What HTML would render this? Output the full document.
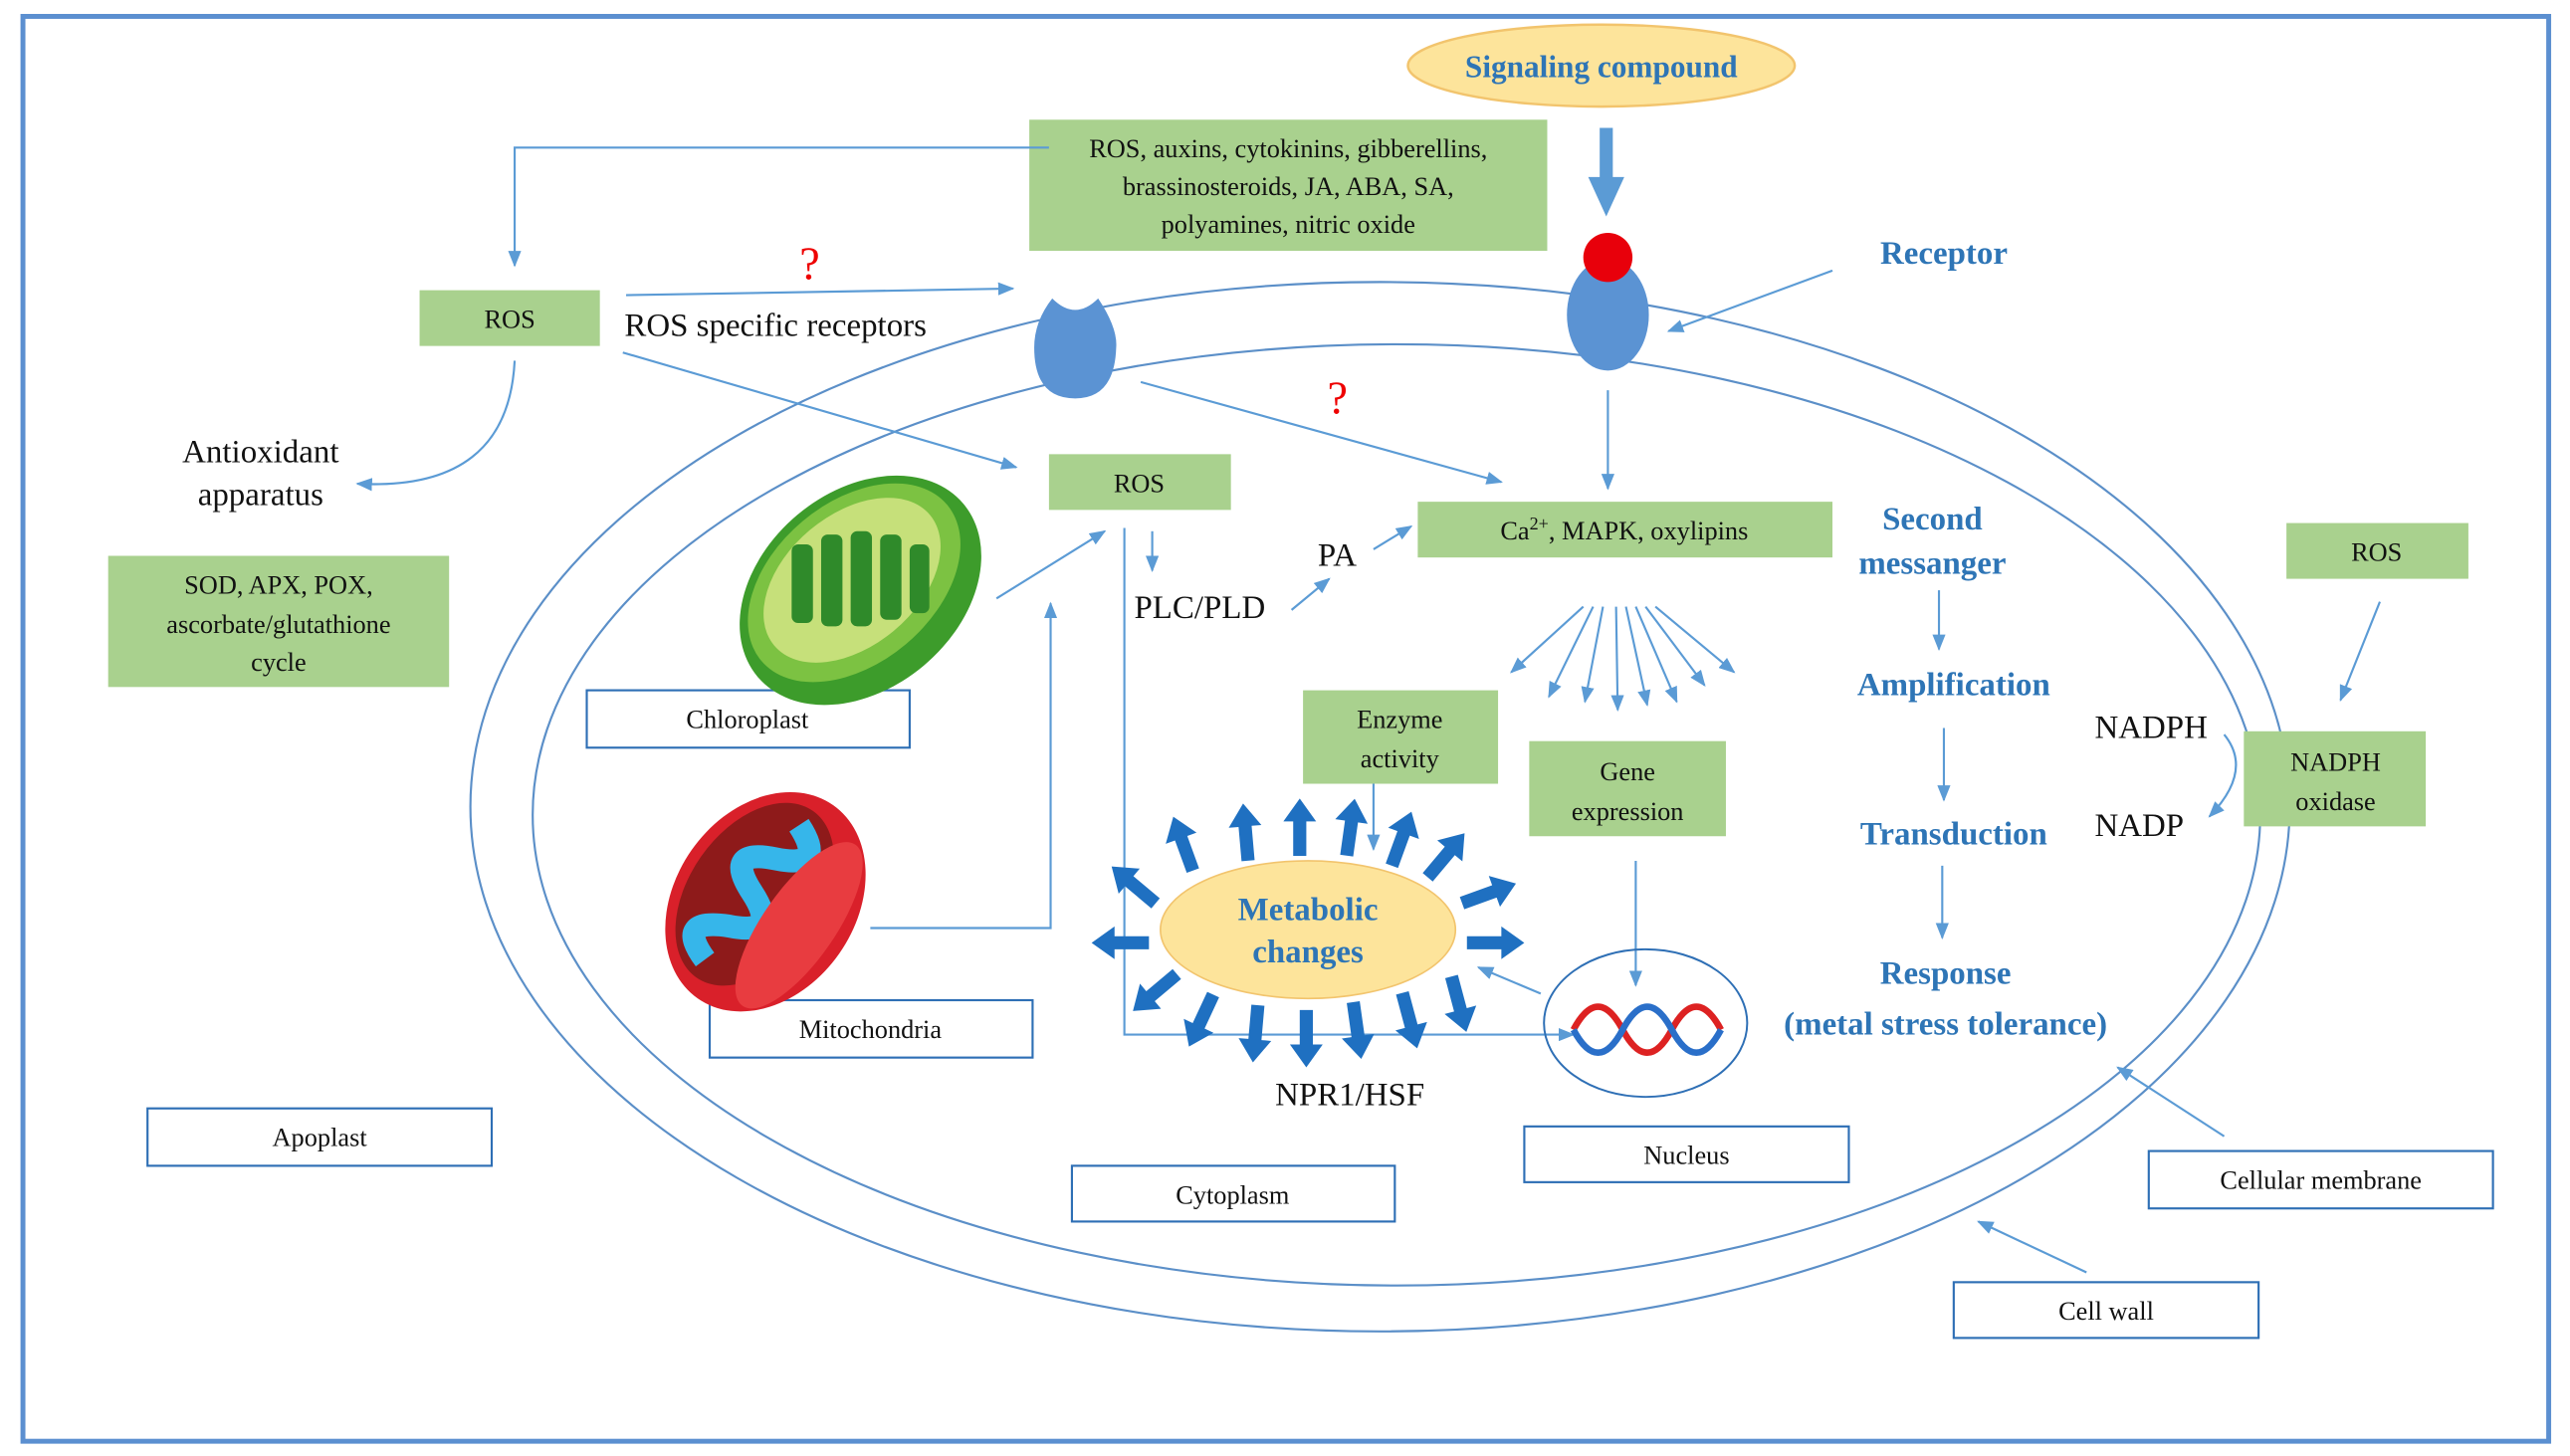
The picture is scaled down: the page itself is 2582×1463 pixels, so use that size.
<!DOCTYPE html>
<html><head><meta charset="utf-8"><style>
html,body{margin:0;padding:0;background:#fff;}
svg{display:block;font-family:"Liberation Serif","DejaVu Serif",serif;}
svg text{font-family:"Liberation Serif","DejaVu Serif",serif !important;}
</style></head><body>
<svg width="2582" height="1463" viewBox="0 0 1568 888" preserveAspectRatio="none" xmlns="http://www.w3.org/2000/svg" font-family="Liberation Serif, serif">
<defs>
<marker id="a" markerWidth="10" markerHeight="8" refX="9" refY="4" orient="auto" markerUnits="userSpaceOnUse"><path d="M0,0 L10,4 L0,8 Z" fill="#5b9bd5"/></marker>
<path id="ba" d="M-4,17 L-4,-4 L-10,-4 L0,-18 L10,-4 L4,-4 L4,17 Z" fill="#1f70c1"/>
</defs>
<rect x="0" y="0" width="1568" height="888" fill="#fff"/>
<rect x="14" y="10" width="1541" height="869" fill="none" stroke="#5b8fd0" stroke-width="3"/>

<ellipse cx="842" cy="492" rx="555" ry="320" fill="none" stroke="#5b8fc8" stroke-width="1.3"/>
<ellipse cx="852" cy="497" rx="527" ry="287" fill="none" stroke="#5b8fc8" stroke-width="1.3"/>

<ellipse cx="977" cy="40" rx="118" ry="25" fill="#fde49b" stroke="#f2c46d" stroke-width="1.5"/>
<text x="977" y="47" font-size="19" font-weight="bold" fill="#2e75b6" text-anchor="middle">Signaling compound</text>
<path d="M976,78 L976,108 L969,108 L980,132 L991,108 L984,108 L984,78 Z" fill="#5b9bd5"/>

<g fill="#a9d18e">
<rect x="628" y="73" width="316" height="80"/>
<rect x="256" y="177" width="110" height="34"/>
<rect x="640" y="277" width="111" height="34"/>
<rect x="865" y="306" width="253" height="34"/>
<rect x="66" y="339" width="208" height="80"/>
<rect x="1395" y="319" width="111" height="34"/>
<rect x="1369" y="446" width="111" height="58"/>
<rect x="795" y="421" width="119" height="57"/>
<rect x="933" y="452" width="120" height="58"/>
</g>
<g font-size="16" fill="#111" text-anchor="middle">
<text x="786" y="96">ROS, auxins,  cytokinins,  gibberellins,</text>
<text x="786" y="119">brassinosteroids,  JA, ABA, SA,</text>
<text x="786" y="142">polyamines,  nitric  oxide</text>
<text x="311" y="200">ROS</text>
<text x="695" y="300">ROS</text>
<text x="1450" y="342">ROS</text>
<text x="1425" y="470">NADPH</text>
<text x="1425" y="494">oxidase</text>
<text x="854" y="444">Enzyme</text>
<text x="854" y="468">activity</text>
<text x="993" y="476">Gene</text>
<text x="993" y="500">expression</text>
<text x="170" y="362">SOD, APX, POX,</text>
<text x="170" y="386">ascorbate/glutathione</text>
<text x="170" y="409">cycle</text>
</g>
<text x="991" y="329" font-size="16" fill="#111" text-anchor="middle">Ca<tspan font-size="11" dy="-6">2+</tspan><tspan dy="6">, MAPK, oxylipins</tspan></text>

<g fill="#fff" stroke="#2e6fb5" stroke-width="1.3">
<rect x="358" y="421" width="197" height="35"/>
<rect x="433" y="610" width="197" height="35"/>
<rect x="90" y="676" width="210" height="35"/>
<rect x="654" y="711" width="197" height="34"/>
<rect x="930" y="687" width="198" height="34"/>
<rect x="1311" y="702" width="210" height="35"/>
<rect x="1192" y="782" width="186" height="34"/>
</g>
<g font-size="16" fill="#111" text-anchor="middle">
<text x="456" y="444">Chloroplast</text>
<text x="531" y="633">Mitochondria</text>
<text x="195" y="699">Apoplast</text>
<text x="752" y="734">Cytoplasm</text>
<text x="1029" y="710">Nucleus</text>
<text x="1416" y="725">Cellular  membrane</text>
<text x="1285" y="805">Cell wall</text>
</g>

<ellipse cx="981" cy="192" rx="25" ry="34" fill="#5b93d3"/>
<circle cx="981" cy="157" r="15" fill="#e8000b"/>
<path d="M642,182 Q656,196 670,182 Q682,200 681,212 Q680,243 656,243 Q631,243 631,212 Q631,196 642,182 Z" fill="#5b93d3"/>

<g font-size="20" font-weight="bold" fill="#2e75b6" text-anchor="middle">
<text x="1186" y="161">Receptor</text>
<text x="1179" y="323">Second</text>
<text x="1179" y="350">messanger</text>
<text x="1192" y="424">Amplification</text>
<text x="1192" y="515">Transduction</text>
<text x="1187" y="600">Response</text>
<text x="1187" y="631">(metal stress tolerance)</text>
</g>
<g font-size="20" fill="#111">
<text x="381" y="205">ROS specific receptors</text>
<text x="159" y="282" text-anchor="middle">Antioxidant</text>
<text x="159" y="308" text-anchor="middle">apparatus</text>
<text x="692" y="377">PLC/PLD</text>
<text x="804" y="345">PA</text>
<text x="1278" y="450">NADPH</text>
<text x="1278" y="510">NADP</text>
<text x="778" y="674">NPR1/HSF</text>
</g>
<text x="494" y="170" font-size="28" fill="#e00" text-anchor="middle">?</text>
<text x="816" y="252" font-size="28" fill="#e00" text-anchor="middle">?</text>

<g fill="none" stroke="#5b9bd5" stroke-width="1.3" marker-end="url(#a)">
<path d="M640,90 L314,90 L314,162"/>
<path d="M382,180 L618,176"/>
<path d="M380,215 L620,285"/>
<path d="M696,233 L916,294"/>
<path d="M314,220 Q310,300 218,295"/>
<path d="M1118,165 L1018,202"/>
<path d="M981,238 L981,298"/>
<path d="M703,324 L703,348"/>
<path d="M788,372 L811,353"/>
<path d="M838,335 L861,321"/>
<path d="M608,365 L674,324"/>
<path d="M531,566 L641,566 L641,368"/>
<path d="M686,322 L686,631 L960,631"/>
<path d="M1183,360 L1183,396"/>
<path d="M1186,444 L1186,488"/>
<path d="M1185,528 L1185,572"/>
<path d="M1452,367 L1428,427"/>
<path d="M1357,448 Q1375,470 1348,498"/>
<path d="M838,478 L838,518"/>
<path d="M998,525 L998,601"/>
<path d="M940,606 L902,590"/>
<path d="M1357,693 L1292,651"/>
<path d="M1273,776 L1207,745"/>
<path d="M966,370 L922,410"/>
<path d="M972,370 L945,425"/>
<path d="M978,370 L967,428"/>
<path d="M986,370 L987,433"/>
<path d="M992,370 L1005,430"/>
<path d="M998,370 L1023,428"/>
<path d="M1004,370 L1040,418"/>
<path d="M1010,370 L1058,410"/>
</g>

<!-- chloroplast -->
<g transform="translate(525,360) rotate(-40)">
<ellipse cx="0" cy="0" rx="82" ry="60" fill="#3d9c2b"/>
<ellipse cx="0" cy="-6" rx="74" ry="49" fill="#7cc242"/>
<ellipse cx="0" cy="-8" rx="62" ry="40" fill="#c6e07a"/>
<g fill="#2f8a2a" transform="rotate(40)">
<rect x="-42" y="-28" width="13" height="48" rx="4"/>
<rect x="-24" y="-34" width="13" height="56" rx="4"/>
<rect x="-6" y="-36" width="13" height="58" rx="4"/>
<rect x="12" y="-34" width="13" height="52" rx="4"/>
<rect x="30" y="-28" width="12" height="42" rx="4"/>
</g>
</g>
<!-- mitochondria -->
<g transform="translate(467,550) rotate(-55)">
<ellipse cx="0" cy="0" rx="72" ry="55" fill="#d9202a"/>
<ellipse cx="0" cy="-8" rx="62" ry="40" fill="#8e1a1a"/>
<path d="M-50,-10 Q-40,-40 -25,-10 Q-12,20 0,-10 Q12,-40 25,-10 Q38,20 50,-10" fill="none" stroke="#36b6ea" stroke-width="14"/>
<ellipse cx="0" cy="25" rx="60" ry="22" fill="#e83c40"/>
</g>

<ellipse cx="798" cy="567" rx="90" ry="42" fill="#fde49b" stroke="#f2c46d" stroke-width="1"/>
<text x="798" y="561" font-size="20" font-weight="bold" fill="#2e75b6" text-anchor="middle">Metabolic</text>
<text x="798" y="587" font-size="20" font-weight="bold" fill="#2e75b6" text-anchor="middle">changes</text>
<use href="#ba" transform="translate(722,515) rotate(-20)"/>
<use href="#ba" transform="translate(760,508) rotate(-5)"/>
<use href="#ba" transform="translate(793,505)"/>
<use href="#ba" transform="translate(824,505) rotate(8)"/>
<use href="#ba" transform="translate(855,512) rotate(20)"/>
<use href="#ba" transform="translate(882,522) rotate(40)"/>
<use href="#ba" transform="translate(908,545) rotate(70)"/>
<use href="#ba" transform="translate(912,575) rotate(90)"/>
<use href="#ba" transform="translate(684,575) rotate(-90)"/>
<use href="#ba" transform="translate(692,540) rotate(-50)"/>
<use href="#ba" transform="translate(705,605) rotate(-130)"/>
<use href="#ba" transform="translate(733,622) rotate(-155)"/>
<use href="#ba" transform="translate(766,630) rotate(-175)"/>
<use href="#ba" transform="translate(797,633) rotate(180)"/>
<use href="#ba" transform="translate(828,628) rotate(172)"/>
<use href="#ba" transform="translate(860,622) rotate(165)"/>
<use href="#ba" transform="translate(890,612) rotate(165)"/>

<ellipse cx="1004" cy="624" rx="62" ry="45" fill="none" stroke="#2e6fb5" stroke-width="1.2"/>
<path d="M960,628 Q975,600 990,628 Q1005,656 1020,628 Q1035,600 1050,628" fill="none" stroke="#d22" stroke-width="4"/>
<path d="M960,628 Q975,656 990,628 Q1005,600 1020,628 Q1035,656 1050,628" fill="none" stroke="#2a6fc9" stroke-width="4"/>
</svg>
</body></html>
